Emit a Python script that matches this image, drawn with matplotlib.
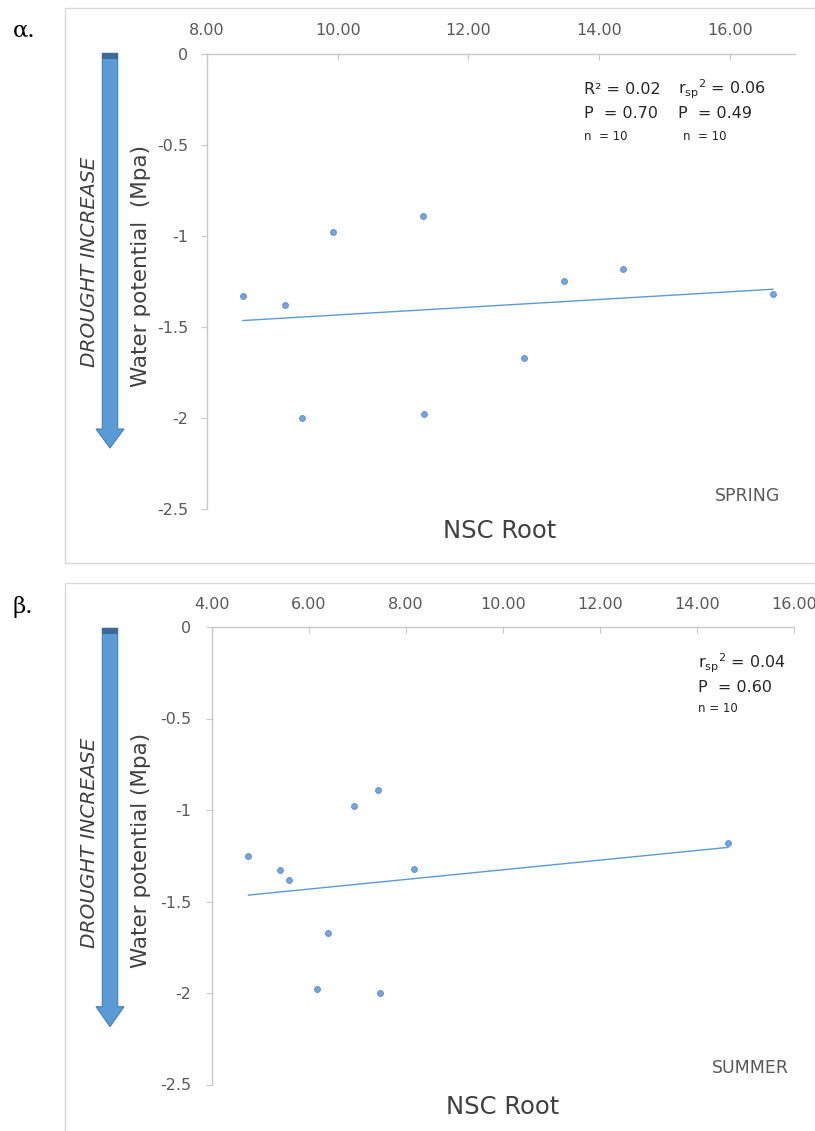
import numpy as np
import matplotlib
matplotlib.use("Agg")
import matplotlib.pyplot as plt
import matplotlib.patches as mpatches
from matplotlib.transforms import Affine2D

# data
spring_nsc = [8.55, 9.19, 9.45, 9.93, 11.30, 11.32, 12.85, 13.46, 14.37, 16.66]
spring_wp = [-1.33, -1.38, -2.00, -0.98, -0.89, -1.98, -1.67, -1.25, -1.18, -1.32]
summer_nsc = [4.75, 5.41, 5.58, 6.17, 6.39, 6.93, 7.43, 7.47, 8.16, 14.64]
summer_wp = [-1.25, -1.33, -1.38, -1.98, -1.67, -0.98, -0.89, -2.00, -1.32, -1.18]

spring_xticks = [8, 10, 12, 14, 16]
summer_xticks = [4, 6, 8, 10, 12, 14, 16]
yticks = [0, -0.5, -1, -1.5, -2, -2.5]
ytick_labels = ["0", "-0.5", "-1", "-1.5", "-2", "-2.5"]

spring_stats_a = ["R\u00b2 = 0.02", "P  = 0.70", "n  = 10"]
spring_stats_b = [r"r$_{\mathregular{sp}}$$^{\mathregular{2}}$ = 0.06", "P  = 0.49", "n  = 10"]
summer_stats = [r"r$_{\mathregular{sp}}$$^{\mathregular{2}}$ = 0.04", "P  = 0.60", "n = 10"]

W, H = 815, 1131
plt.rcParams['font.family'] = ['DejaVu Sans']
plt.rcParams['axes.unicode_minus'] = False

fig = plt.figure(figsize=(W / 100, H / 100), dpi=100)
fig.patch.set_facecolor("white")
PX = Affine2D().scale(1 / W, -1 / H).translate(0, 1) + fig.transFigure

AXIS_C = "#c8c8c8"
TICK_C = "#595959"
TEXT_C = "#404040"
BLUE = "#5b9bd5"


def panel(rect_px, x, y, xlim, xticks, xpad, ypad):
    l, t, r, b = rect_px
    ax = fig.add_axes([l / W, 1 - b / H, (r - l) / W, (b - t) / H])
    ax.scatter(x, y, s=18, facecolor="#76a5dc", edgecolor="#5b8cc8", lw=0.6, zorder=3)
    k, c = np.polyfit(x, y, 1)
    xs = np.array([min(x), max(x)])
    ax.plot(xs, k * xs + c, color=BLUE, lw=1.0, zorder=2)
    ax.set_xlim(*xlim)
    ax.set_ylim(-2.5, 0)
    ax.set_xticks(xticks)
    ax.set_xticklabels(["%.2f" % v for v in xticks])
    ax.set_yticks(yticks)
    ax.set_yticklabels(ytick_labels)
    ax.xaxis.tick_top()
    ax.tick_params(axis="x", direction="in", length=4, color=AXIS_C,
                   labelsize=11.5, labelcolor=TICK_C, pad=xpad)
    ax.tick_params(axis="y", direction="out", length=4, color=AXIS_C,
                   labelsize=11.5, labelcolor=TICK_C, pad=ypad)
    for s in ["right", "bottom"]:
        ax.spines[s].set_visible(False)
    for s in ["top", "left"]:
        ax.spines[s].set_color(AXIS_C)
        ax.spines[s].set_linewidth(1.0)
    ax.set_facecolor("none")
    return ax


def arrow(top, base, tip):
    cx, hw, hh = 110, 7.7, 14
    verts = [(cx - hw, top), (cx + hw, top), (cx + hw, base), (cx + hh, base),
             (cx, tip), (cx - hh, base), (cx - hw, base)]
    fig.add_artist(mpatches.Polygon(verts, closed=True, transform=PX,
                                    facecolor=BLUE, edgecolor="#4a7fb5", lw=0.8))
    fig.add_artist(mpatches.Rectangle((cx - hw, top), 2 * hw, 5.5, transform=PX,
                                      facecolor="#3d6a96", edgecolor="none"))


# frames
fig.add_artist(mpatches.Rectangle((65, 8), 800, 555, transform=PX, fill=False,
                                  edgecolor="#d9d9d9", lw=1.0))
fig.add_artist(mpatches.Rectangle((65, 583), 800, 600, transform=PX, fill=False,
                                  edgecolor="#d9d9d9", lw=1.0))

# spring panel
panel((207, 53.8, 795, 509), spring_nsc, spring_wp, (8, 17), spring_xticks, 11.5, 9.5)
arrow(53.3, 429, 448)
fig.text(13, 37, "\u03b1.", transform=PX, fontsize=16.5, family="DejaVu Serif",
         color="black", ha="left", va="baseline")
fig.text(89.5, 262, "DROUGHT INCREASE", transform=PX, fontsize=14.5, style="italic",
         color=TEXT_C, rotation=90, ha="center", va="center")
fig.text(141, 266, "Water potential  (Mpa)", transform=PX, fontsize=15.5,
         color=TEXT_C, rotation=90, ha="center", va="center")
fig.text(500, 531, "NSC Root", transform=PX, fontsize=17.5, color=TEXT_C,
         ha="center", va="center")
fig.text(780, 496, "SPRING", transform=PX, fontsize=12.5, color=TICK_C,
         ha="right", va="center")
for i, (sa, sb) in enumerate(zip(spring_stats_a, spring_stats_b)):
    fs = 11.5 if i < 2 else 8.5
    yy = [89, 114, 136][i]
    fig.text(584, yy, sa, transform=PX, fontsize=fs, color="#262626", ha="left", va="center")
    fig.text(678 if i < 2 else 683, yy, sb, transform=PX, fontsize=fs, color="#262626",
             ha="left", va="center")

# summer panel
panel((212, 627, 794, 1084.5), summer_nsc, summer_wp, (4, 16), summer_xticks, 10.5, 11)
arrow(628.3, 1006.7, 1026.7)
fig.text(13, 613, "\u03b2.", transform=PX, fontsize=16.5, family="DejaVu Serif",
         color="black", ha="left", va="baseline")
fig.text(89.5, 843, "DROUGHT INCREASE", transform=PX, fontsize=14.5, style="italic",
         color=TEXT_C, rotation=90, ha="center", va="center")
fig.text(141, 850, "Water potential (Mpa)", transform=PX, fontsize=15.5,
         color=TEXT_C, rotation=90, ha="center", va="center")
fig.text(502.6, 1106.7, "NSC Root", transform=PX, fontsize=17.5, color=TEXT_C,
         ha="center", va="center")
fig.text(789, 1068, "SUMMER", transform=PX, fontsize=12.5, color=TICK_C,
         ha="right", va="center")
for i, s in enumerate(summer_stats):
    fs = 11.5 if i < 2 else 8.5
    yy = [663, 687, 709][i]
    fig.text(697.7, yy, s, transform=PX, fontsize=fs, color="#262626", ha="left", va="center")

fig.savefig("out.png", dpi=100)
